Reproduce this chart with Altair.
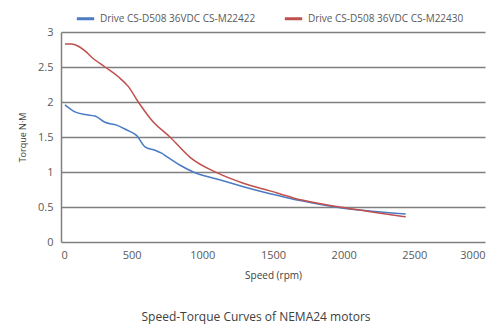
import altair as alt
import pandas as pd

series_a = "Drive CS-D508 36VDC CS-M22422"
series_b = "Drive CS-D508 36VDC CS-M22430"

speed_a = [28, 99, 170, 241, 311, 394, 465, 536, 594, 665, 712, 748, 840, 936, 1102, 1290, 1479, 1644, 1800, 1974, 2200, 2439]
torque_a = [1.96, 1.86, 1.82, 1.80, 1.71, 1.67, 1.60, 1.52, 1.36, 1.31, 1.27, 1.22, 1.10, 1.00, 0.90, 0.79, 0.69, 0.61, 0.55, 0.49, 0.44, 0.40]

speed_b = [28, 76, 120, 170, 217, 311, 406, 477, 547, 642, 771, 913, 1102, 1290, 1479, 1644, 1800, 1974, 2200, 2439]
torque_b = [2.83, 2.83, 2.80, 2.73, 2.64, 2.50, 2.36, 2.22, 2.00, 1.74, 1.50, 1.21, 0.99, 0.84, 0.73, 0.63, 0.56, 0.50, 0.43, 0.36]

df = pd.concat([
    pd.DataFrame({"speed": speed_a, "torque": torque_a, "series": series_a}),
    pd.DataFrame({"speed": speed_b, "torque": torque_b, "series": series_b}),
])

font = "Open Sans"

chart = alt.Chart(df).mark_line(interpolate="monotone", strokeWidth=1.5).encode(
    x=alt.X("speed:Q", title="Speed (rpm)",
            scale=alt.Scale(domain=[0, 3000], nice=False),
            axis=alt.Axis(values=[0, 500, 1000, 1500, 2000, 2500, 3000], grid=False, format="d",
                          ticks=False, domain=False, labelFontSize=11, labelColor="#595959",
                          titleFontSize=10, titleFontWeight="normal", titleColor="#404040",
                          titlePadding=10, labelPadding=7, labelFont=font, titleFont=font)),
    y=alt.Y("torque:Q", title="Torque N·M",
            scale=alt.Scale(domain=[0, 3], nice=False),
            axis=alt.Axis(values=[0, 0.5, 1, 1.5, 2, 2.5, 3], grid=True, gridColor="#7f7f7f",
                          gridWidth=1.5, ticks=False, domain=True, domainColor="#7f7f7f", format="~g",
                          domainWidth=1.5, labelFontSize=11, labelColor="#595959",
                          titleFontSize=9, titleFontWeight="normal", titleColor="#404040",
                          titlePadding=10, labelPadding=8, labelFont=font, titleFont=font)),
    color=alt.Color("series:N", title=None,
                    scale=alt.Scale(domain=[series_a, series_b], range=["#4a7bc4", "#c0504d"]),
                    legend=alt.Legend(orient="none", direction="horizontal", legendX=14, legendY=-24,
                                      symbolType="stroke", symbolStrokeWidth=3, symbolSize=300,
                                      labelFontSize=10, labelColor="#595959", labelFont=font,
                                      columnPadding=22, labelLimit=300)),
).properties(
    width=424, height=210,
    title=alt.TitleParams("Speed-Torque Curves of NEMA24 motors", orient="bottom",
                          fontSize=12, fontWeight="normal", color="#404040", font=font,
                          offset=32, dx=-17),
    padding={"left": 61, "top": 32, "right": 16, "bottom": 88},
    autosize=alt.AutoSizeParams(type="none"),
).configure_view(stroke=None)

chart.save("out.html", embed_options={"renderer": "svg", "actions": False})
